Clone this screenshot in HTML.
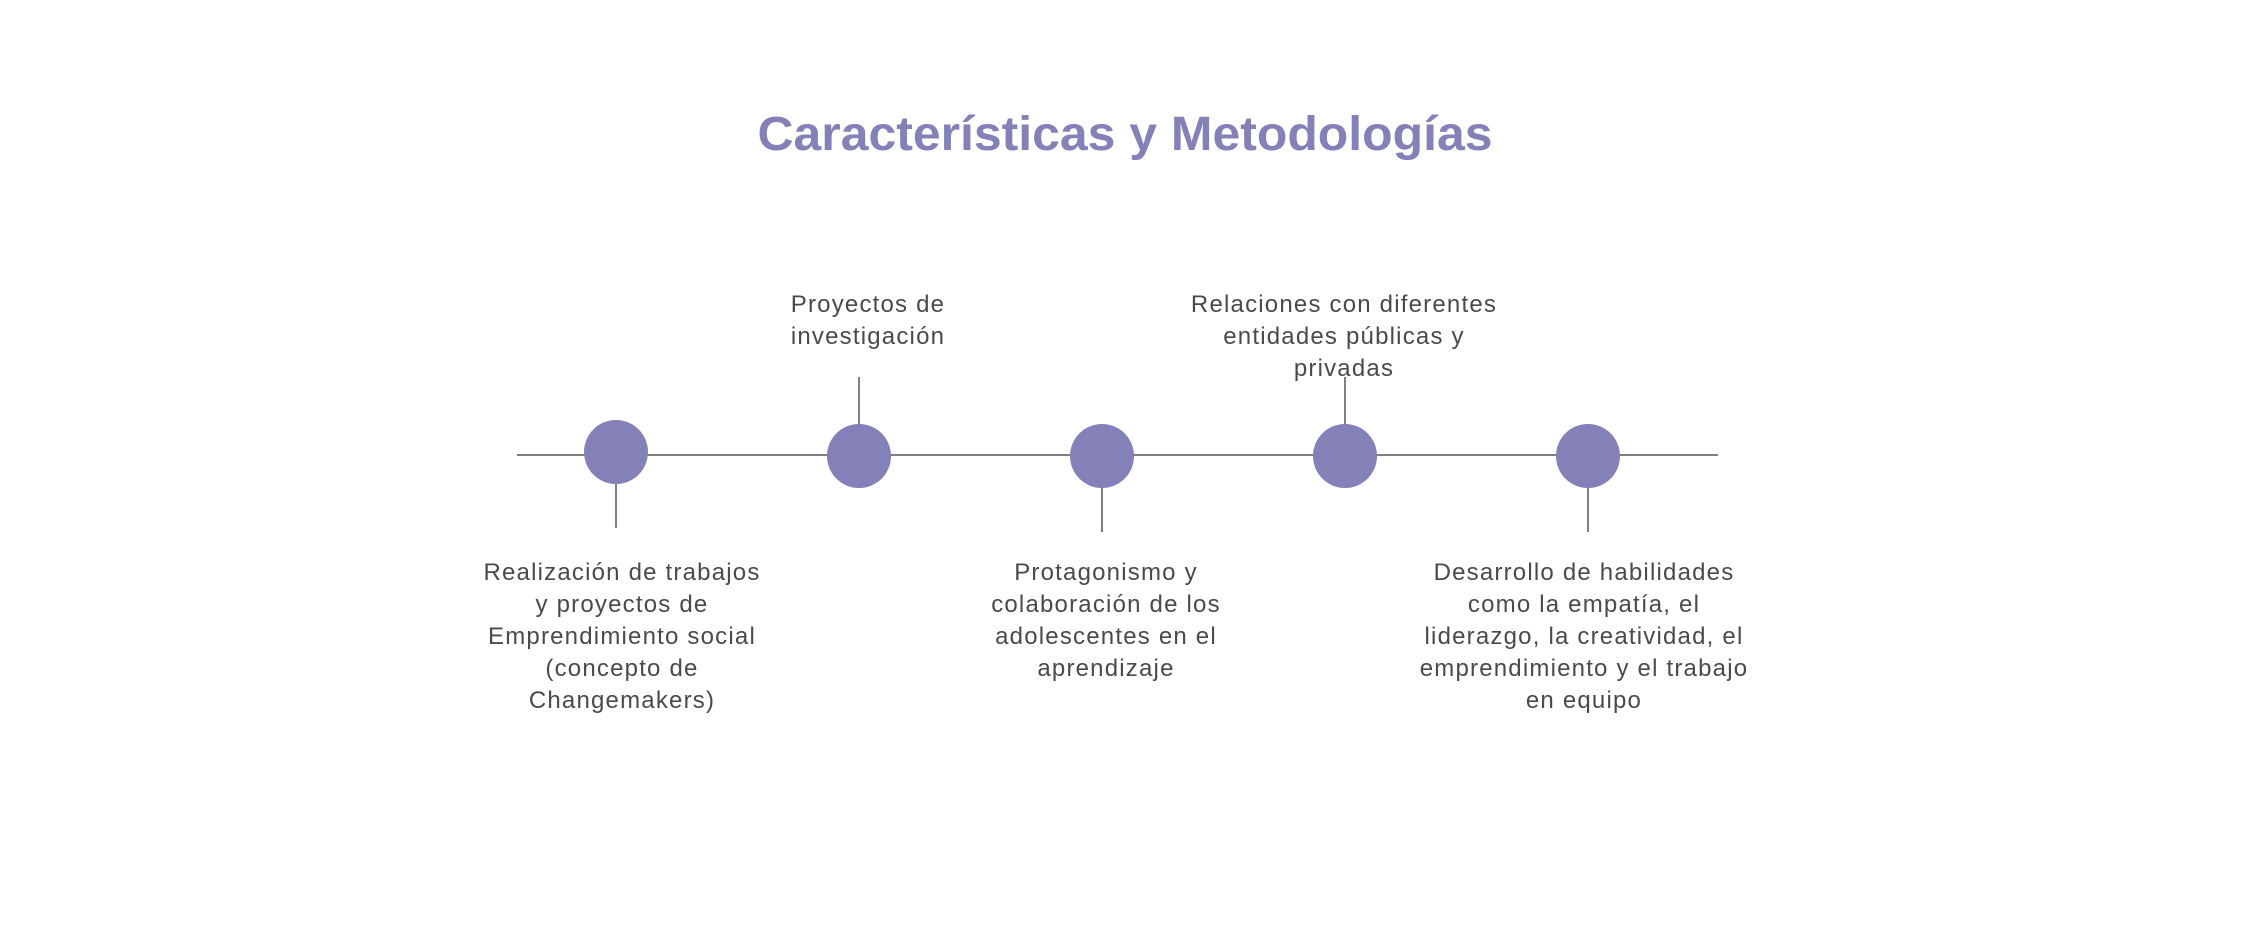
<!DOCTYPE html>
<html><head><meta charset="utf-8"><style>html,body{margin:0;padding:0;background:#fff}svg{display:block}</style></head>
<body>
<svg width="2251" height="932" viewBox="0 0 2251 932" xmlns="http://www.w3.org/2000/svg">
<text x="1125" y="150" text-anchor="middle" font-family="Liberation Sans, sans-serif" font-weight="bold" font-size="48" fill="#8480b8" textLength="735" lengthAdjust="spacingAndGlyphs">Características y Metodologías</text>
<line x1="517" y1="455" x2="1718" y2="455" stroke="#555" stroke-width="1.5"/>
<g stroke="#555" stroke-width="1.5">
<line x1="616" y1="480" x2="616" y2="528"/>
<line x1="859" y1="377" x2="859" y2="430"/>
<line x1="1102" y1="480" x2="1102" y2="532"/>
<line x1="1345" y1="377" x2="1345" y2="430"/>
<line x1="1588" y1="480" x2="1588" y2="532"/>
</g>
<g fill="#8480b8">
<circle cx="616" cy="452" r="32"/>
<circle cx="859" cy="456" r="32"/>
<circle cx="1102" cy="456" r="32"/>
<circle cx="1345" cy="456" r="32"/>
<circle cx="1588" cy="456" r="32"/>
</g>
<g font-family="Liberation Sans, sans-serif" font-size="24" fill="#4a4a4a" text-anchor="middle" letter-spacing="1.2">
<text x="868" y="312">Proyectos de</text>
<text x="868" y="344">investigación</text>
<text x="1344" y="312">Relaciones con diferentes</text>
<text x="1344" y="344">entidades públicas y</text>
<text x="1344" y="376">privadas</text>
<text x="622" y="580">Realización de trabajos</text>
<text x="622" y="612">y proyectos de</text>
<text x="622" y="644">Emprendimiento social</text>
<text x="622" y="676">(concepto de</text>
<text x="622" y="708">Changemakers)</text>
<text x="1106" y="580">Protagonismo y</text>
<text x="1106" y="612">colaboración de los</text>
<text x="1106" y="644">adolescentes en el</text>
<text x="1106" y="676">aprendizaje</text>
<text x="1584" y="580">Desarrollo de habilidades</text>
<text x="1584" y="612">como la empatía, el</text>
<text x="1584" y="644">liderazgo, la creatividad, el</text>
<text x="1584" y="676">emprendimiento y el trabajo</text>
<text x="1584" y="708">en equipo</text>
</g>
</svg>
</body></html>
